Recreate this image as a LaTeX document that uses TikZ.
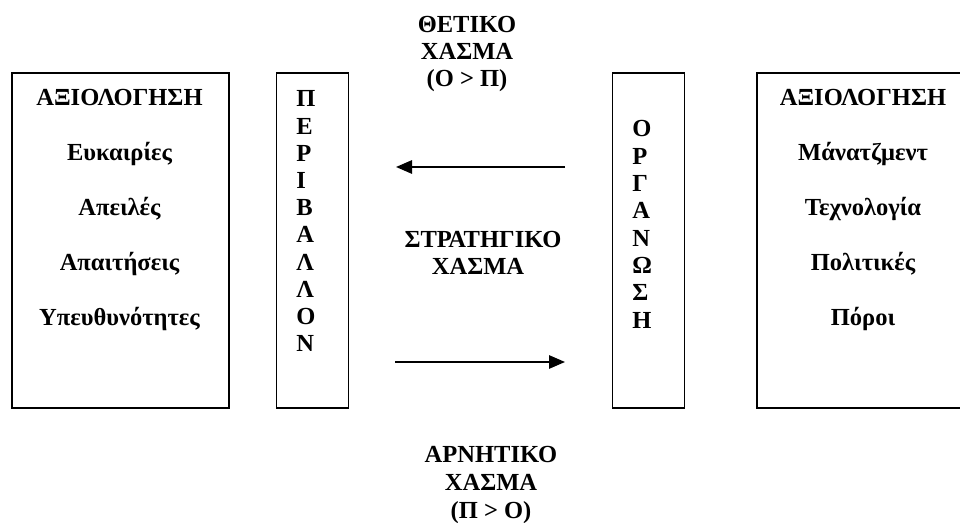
\documentclass[tikz,border=0pt]{standalone}
\usepackage{fontspec}
\setmainfont{Liberation Serif}
\usetikzlibrary{arrows.meta}
\begin{document}
\begin{tikzpicture}[x=0.75pt,y=-0.75pt,
  boxline/.style={draw=black,line width=1.4pt},
  lbl/.style={font=\fontsize{18.4}{22}\selectfont\bfseries,inner sep=0pt,anchor=base},
  vlet/.style={font=\fontsize{18.4}{22}\selectfont\bfseries,inner sep=0pt,anchor=base west},
  gaparrow/.style={line width=1.4pt,-{Triangle[length=12pt,width=10pt]}}]
\clip (0,0) rectangle (960,523);
\fill[white] (0,0) rectangle (960,523);
% boxes
\node[boxline,anchor=north west,minimum width=217*0.75pt,minimum height=335*0.75pt,inner sep=0pt] (envbox) at (11,72) {};
\node[boxline,anchor=north west,minimum width=72*0.75pt,minimum height=335*0.75pt,inner sep=0pt] (envcol) at (275.5,72) {};
\node[boxline,anchor=north west,minimum width=72*0.75pt,minimum height=335*0.75pt,inner sep=0pt] (orgcol) at (611.5,72) {};
\node[boxline,anchor=north west,minimum width=214*0.75pt,minimum height=335*0.75pt,inner sep=0pt] (orgbox) at (756,72) {};
% left box text
\foreach \t [count=\i from 0] in {ΑΞΙΟΛΟΓΗΣΗ,Ευκαιρίες,Απειλές,Απαιτήσεις,Υπευθυνότητες}
  \node[lbl] (envt\i) at (119.5,106+55*\i) {\t};
% right box text
\foreach \t [count=\i from 0] in {ΑΞΙΟΛΟΓΗΣΗ,Μάνατζμεντ,Τεχνολογία,Πολιτικές,Πόροι}
  \node[lbl] (orgt\i) at (863,106+55*\i) {\t};
% vertical letters
\foreach \t [count=\i from 0] in {Π,Ε,Ρ,Ι,Β,Α,Λ,Λ,Ο,Ν}
  \node[vlet] (envl\i) at (296,107+27.2*\i) {\t};
\foreach \t [count=\i from 0] in {Ο,Ρ,Γ,Α,Ν,Ω,Σ,Η}
  \node[vlet] (orgl\i) at (632,137+27.3*\i) {\t};
% gap labels
\node[lbl] (pos1) at (467,33) {ΘΕΤΙΚΟ};
\node[lbl] (pos2) at (467,60) {ΧΑΣΜΑ};
\node[lbl] (pos3) at (467,87) {(Ο > Π)};
\node[lbl] (str1) at (483,248) {ΣΤΡΑΤΗΓΙΚΟ};
\node[lbl] (str2) at (478,275) {ΧΑΣΜΑ};
\node[lbl] (neg1) at (491,463) {ΑΡΝΗΤΙΚΟ};
\node[lbl] (neg2) at (491,491) {ΧΑΣΜΑ};
\node[lbl] (neg3) at (491,518) {(Π > Ο)};
% arrows
\coordinate (a1s) at (565,167);
\coordinate (a1e) at (396,167);
\coordinate (a2s) at (395,362);
\coordinate (a2e) at (565,362);
\draw[gaparrow] (a1s) -- (a1e);
\draw[gaparrow] (a2s) -- (a2e);
\end{tikzpicture}
\end{document}
